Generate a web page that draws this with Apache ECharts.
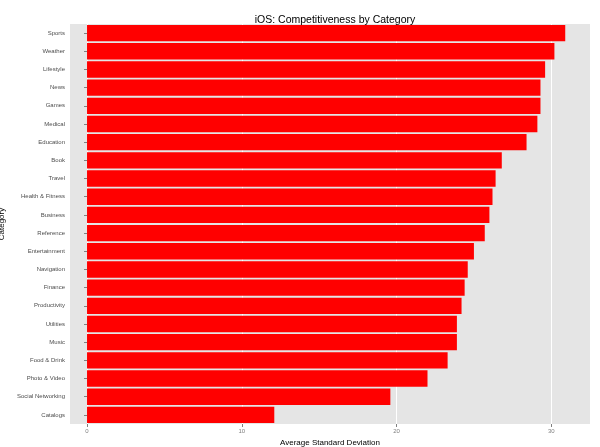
<!DOCTYPE html>
<html><head><meta charset="utf-8">
<script src="https://cdn.jsdelivr.net/npm/echarts@6/dist/echarts.min.js"></script>
<style>html,body{margin:0;padding:0;background:#fff}#c{width:600px;height:447px}</style>
</head><body><div id="c"></div>
<script>
const categories = ["Catalogs","Social Networking","Photo & Video","Food & Drink","Music","Utilities","Productivity","Finance","Navigation","Entertainment","Reference","Business","Health & Fitness","Travel","Book","Education","Medical","Games","News","Lifestyle","Weather","Sports"];
const values = [12.1,19.6,22.0,23.3,23.9,23.9,24.2,24.4,24.6,25.0,25.7,26.0,26.2,26.4,26.8,28.4,29.1,29.3,29.3,29.6,30.2,30.9];
const xTicks = [0,10,20,30];
const chart = echarts.init(document.getElementById('c'));
chart.setOption({
  animation:false,
  title:{text:'iOS: Competitiveness by Category',left:330,top:10,textAlign:'center',textStyle:{fontSize:10.5,fontWeight:'normal',color:'#000',fontFamily:'Liberation Sans'}},
  grid:{left:70,right:10,top:24,bottom:23,containLabel:false,outerBoundsMode:'none',backgroundColor:'#E5E5E5',show:true,borderWidth:0},
  xAxis:{type:'value',min:-1.1,max:32.5,name:'Average Standard Deviation',nameLocation:'middle',nameGap:13,
    nameTextStyle:{fontSize:8,color:'#000',fontFamily:'Liberation Sans'},
    axisLine:{show:false},axisTick:{show:true,customValues:xTicks,length:3,lineStyle:{color:'#7f7f7f'}},
    axisLabel:{customValues:xTicks,fontSize:6,color:'#7f7f7f',margin:4},
    splitLine:{show:true,lineStyle:{color:'#fff',width:1}}},
  yAxis:{type:'category',data:categories,name:'Category',nameLocation:'middle',nameGap:58,nameRotate:90,
    nameTextStyle:{fontSize:8,color:'#000',fontFamily:'Liberation Sans'},
    axisLine:{show:false},axisTick:{show:true,alignWithLabel:true,length:3,lineStyle:{color:'#7f7f7f'}},
    axisLabel:{fontSize:6,color:'#4d4d4d',margin:5}},
  series:[{type:'bar',data:values,barWidth:'90%',itemStyle:{color:'#FF0000'}}]
});
</script></body></html>
